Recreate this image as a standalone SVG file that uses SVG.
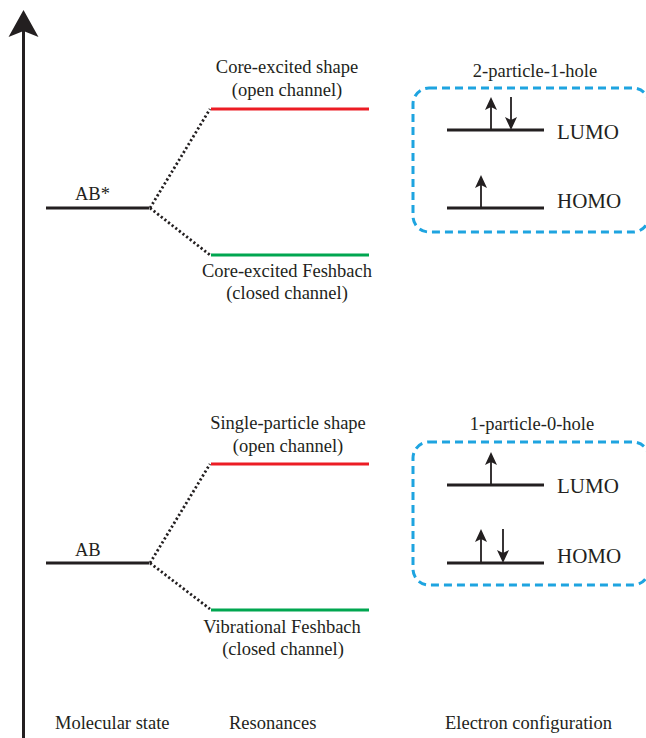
<svg xmlns="http://www.w3.org/2000/svg" width="646" height="738" viewBox="0 0 646 738">
<style>
text{font-family:"Liberation Serif","Times New Roman",serif;font-size:18.5px;fill:#231f20}
.mo{font-size:21px}
.lvl{stroke:#231f20;stroke-width:3;fill:none}
.red{stroke:#ec1c24;stroke-width:3;fill:none}
.green{stroke:#00a650;stroke-width:3;fill:none}
.dot{stroke:#231f20;stroke-width:2.8;stroke-dasharray:2.2 2.4;fill:none}
.box{stroke:#1ea4e0;stroke-width:3;stroke-dasharray:8 5;fill:none}
.sh{stroke:#231f20;stroke-width:1.8;fill:none}
.ah{fill:#231f20}
</style>
<rect width="646" height="738" fill="#ffffff"/>
<g id="axis">
<line x1="23.5" y1="30" x2="23.5" y2="738" stroke="#231f20" stroke-width="3"/>
<polygon class="ah" points="23.5,10 38.5,37 23.5,31 8.5,37"/>
</g>
<g id="connectors">
<path class="dot" d="M150,208 L210,109"/>
<path class="dot" d="M150,208 L210,255"/>
<path class="dot" d="M150,563 L210,464"/>
<path class="dot" d="M150,563 L210,609"/>
</g>
<g id="ab-star">
<line class="lvl" x1="46" y1="208" x2="149" y2="208"/>
<text x="75" y="200">AB*</text>
</g>
<g id="ab">
<line class="lvl" x1="46" y1="563" x2="149" y2="563"/>
<text x="75" y="556">AB</text>
</g>
<g id="core-excited-shape">
<line class="red" x1="211" y1="109" x2="369" y2="109"/>
<text x="287" y="73" text-anchor="middle">Core-excited shape</text>
<text x="287" y="96" text-anchor="middle">(open channel)</text>
</g>
<g id="core-excited-feshbach">
<line class="green" x1="211" y1="255" x2="369" y2="255"/>
<text x="287" y="277" text-anchor="middle">Core-excited Feshbach</text>
<text x="287" y="299" text-anchor="middle">(closed channel)</text>
</g>
<g id="single-particle-shape">
<line class="red" x1="211" y1="464" x2="369" y2="464"/>
<text x="288" y="429" text-anchor="middle">Single-particle shape</text>
<text x="288" y="452" text-anchor="middle">(open channel)</text>
</g>
<g id="vibrational-feshbach">
<line class="green" x1="211" y1="610" x2="369" y2="610"/>
<text x="282" y="633" text-anchor="middle">Vibrational Feshbach</text>
<text x="283" y="655" text-anchor="middle">(closed channel)</text>
</g>
<g id="config-2p1h">
<text x="535" y="77" text-anchor="middle">2-particle-1-hole</text>
<rect class="box" x="413" y="88" width="236" height="144" rx="16"/>
<line class="lvl" x1="447" y1="130" x2="544" y2="130"/>
<line class="lvl" x1="447" y1="208" x2="544" y2="208"/>
<text class="mo" x="557" y="139">LUMO</text>
<text class="mo" x="557" y="208">HOMO</text>
<line class="sh" x1="491" y1="130" x2="491" y2="104"/>
<polygon class="ah" points="491,97 497,110 491,107 485,110"/>
<line class="sh" x1="511" y1="97" x2="511" y2="123"/>
<polygon class="ah" points="511,130 517,117 511,120 505,117"/>
<line class="sh" x1="481" y1="208" x2="481" y2="182"/>
<polygon class="ah" points="481,175 487,188 481,185 475,188"/>
</g>
<g id="config-1p0h">
<text x="532" y="430" text-anchor="middle">1-particle-0-hole</text>
<rect class="box" x="413" y="442" width="236" height="143" rx="16"/>
<line class="lvl" x1="447" y1="485" x2="544" y2="485"/>
<line class="lvl" x1="447" y1="563" x2="544" y2="563"/>
<text class="mo" x="557" y="493">LUMO</text>
<text class="mo" x="557" y="563">HOMO</text>
<line class="sh" x1="491" y1="485" x2="491" y2="459"/>
<polygon class="ah" points="491,452 497,465 491,462 485,465"/>
<line class="sh" x1="481" y1="563" x2="481" y2="536"/>
<polygon class="ah" points="481,529 487,542 481,539 475,542"/>
<line class="sh" x1="503" y1="529" x2="503" y2="556"/>
<polygon class="ah" points="503,563 509,550 503,553 497,550"/>
</g>
<g id="labels">
<text x="55" y="729">Molecular state</text>
<text x="229" y="729">Resonances</text>
<text x="445" y="729">Electron configuration</text>
</g>
</svg>
